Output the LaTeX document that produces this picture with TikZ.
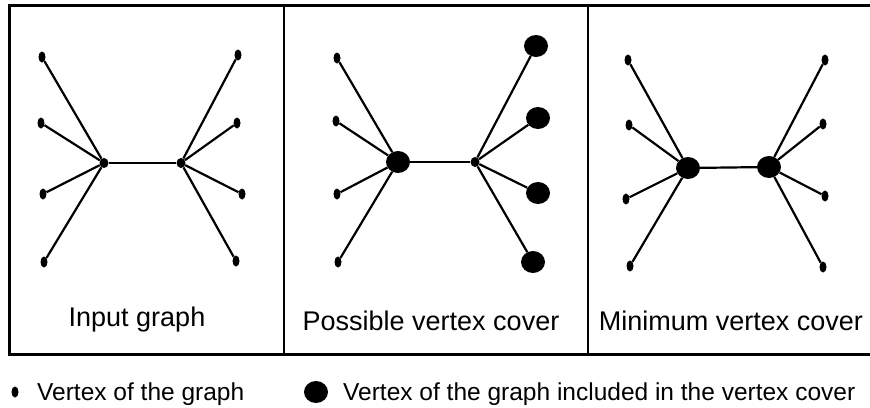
\documentclass[tikz,border=0pt]{standalone}
\usepackage{fontspec}
\setmainfont{Liberation Sans}
\usetikzlibrary{shapes.geometric}

\tikzset{
	vtx/.style={shape=ellipse,fill=black,inner sep=0pt,minimum width=7pt,minimum height=11pt},
	hub/.style={shape=ellipse,fill=black,inner sep=0pt,minimum width=9pt,minimum height=10pt},
	cov/.style={shape=ellipse,fill=black,inner sep=0pt,minimum width=24pt,minimum height=22pt},
	lbl/.style={anchor=base,inner sep=0pt,font=\fontsize{27}{32}\selectfont},
	key/.style={anchor=base west,inner sep=0pt,font=\fontsize{24.5}{29}\selectfont},
	edge/.style={line width=2.2pt}
}

\begin{document}
\begin{tikzpicture}[x=1pt,y=-1pt]
	\useasboundingbox (0,0) rectangle (870,407);
	% frame of the three panels
	\draw[line width=3pt] (870,5) -- (9,5) -- (9,354) -- (870,354);
	\draw[line width=2.5pt] (284,5) -- (284,354);
	\draw[line width=2.5pt] (588,5) -- (588,354);

	% input graph
	\node[hub] (A) at (104,163) {};
	\node[hub] (B) at (181,163) {};
	\node[vtx] (A1) at (42,57) {};
	\node[vtx] (A2) at (41,123) {};
	\node[vtx] (A3) at (43,194) {};
	\node[vtx] (A4) at (44,262) {};
	\node[vtx] (B1) at (238,55) {};
	\node[vtx] (B2) at (237,123) {};
	\node[vtx] (B3) at (242,194) {};
	\node[vtx] (B4) at (236,261) {};
	\draw[edge] (A) -- (B);
	\foreach \i in {1,...,4} {
		\draw[edge] (A) -- (A\i);
		\draw[edge] (B) -- (B\i);
	}
	\node[lbl] (In) at (137,326) {Input graph};

	% possible vertex cover
	\node[cov] (C) at (398,162) {};
	\node[hub] (D) at (475,162) {};
	\node[vtx] (C1) at (337,58) {};
	\node[vtx] (C2) at (336,121) {};
	\node[vtx] (C3) at (337,194) {};
	\node[vtx] (C4) at (338,262) {};
	\node[cov] (D1) at (536,46) {};
	\node[cov] (D2) at (538,118) {};
	\node[cov] (D3) at (538,193) {};
	\node[cov] (D4) at (533,262) {};
	\draw[edge] (C) -- (D);
	\foreach \i in {1,...,4} {
		\draw[edge] (C) -- (C\i);
		\draw[edge] (D) -- (D\i);
	}
	\node[lbl] (Pv) at (431,330) {Possible vertex cover};

	% minimum vertex cover
	\node[cov] (E) at (688,168) {};
	\node[cov] (F) at (769,167) {};
	\node[vtx] (E1) at (628,60) {};
	\node[vtx] (E2) at (629,125) {};
	\node[vtx] (E3) at (626,199) {};
	\node[vtx] (E4) at (630,266) {};
	\node[vtx] (F1) at (825,60) {};
	\node[vtx] (F2) at (823,124) {};
	\node[vtx] (F3) at (825,196) {};
	\node[vtx] (F4) at (823,267) {};
	\draw[edge] (E) -- (F);
	\foreach \i in {1,...,4} {
		\draw[edge] (E) -- (E\i);
		\draw[edge] (F) -- (F\i);
	}
	\node[lbl] (Mv) at (731,330) {Minimum vertex cover};

	% legend
	\node[vtx] (Ls) at (15,392) {};
	\node[key] (Lst) at (37,400) {Vertex of the graph};
	\node[cov] (Lb) at (316,392) {};
	\node[key] (Lbt) at (343,400) {Vertex of the graph included in the vertex cover};
\end{tikzpicture}
\end{document}
